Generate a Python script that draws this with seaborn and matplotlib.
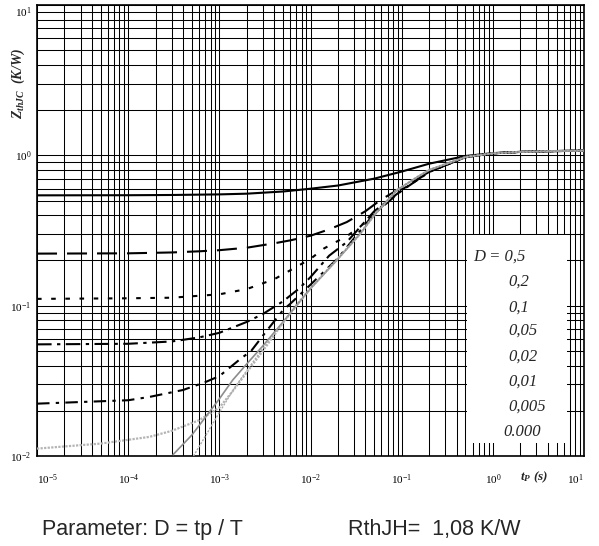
"""Transient thermal impedance Z_thJC vs pulse width, parameter D = tp / T."""

import numpy as np
import pandas as pd
import matplotlib
matplotlib.use("Agg")
import matplotlib.pyplot as plt
from matplotlib.ticker import LogLocator, NullFormatter, FixedLocator
from matplotlib.patches import Rectangle
import seaborn as sns


# --------------------------------------------------------
#       DATA
# --------------------------------------------------------

# D = 0.5
t_d05 = [1e-5, 1e-4, 3e-4, 1e-3, 2e-3, 5e-3, 1e-2, 2e-2, 5e-2, 1e-1, 2e-1, 5e-1, 1, 2, 5, 10]
z_d05 = [0.542, 0.543, 0.545, 0.550, 0.556, 0.575, 0.600, 0.630, 0.700, 0.780, 0.880, 0.990, 1.035, 1.055, 1.068, 1.075]

# D = 0.2
t_d02 = [1e-5, 1e-4, 3e-4, 6e-4, 1e-3, 2e-3, 4e-3, 6e-3, 1e-2, 1.6e-2, 2.5e-2, 4e-2, 6e-2, 1e-1, 1.5e-1, 2e-1, 5e-1, 1, 2, 5, 10]
z_d02 = [0.222, 0.223, 0.226, 0.230, 0.234, 0.243, 0.260, 0.272, 0.292, 0.322, 0.360, 0.425, 0.510, 0.610, 0.705, 0.780, 0.972, 1.032, 1.054, 1.068, 1.075]

# D = 0.1
t_d01 = [1e-5, 1e-4, 3e-4, 1e-3, 2e-3, 4e-3, 6e-3, 1e-2, 1.4e-2, 2.5e-2, 3.5e-2, 6e-2, 1e-1, 2e-1, 5e-1, 1, 2, 5, 10]
z_d01 = [0.111, 0.112, 0.113, 0.119, 0.129, 0.150, 0.172, 0.205, 0.240, 0.290, 0.335, 0.455, 0.590, 0.778, 0.972, 1.032, 1.054, 1.068, 1.075]

# D = 0.05
t_d005 = [1e-5, 1e-4, 3e-4, 6e-4, 1e-3, 2e-3, 3e-3, 5e-3, 7.5e-3, 1e-2, 1.6e-2, 2.5e-2, 5e-2, 1e-1, 2e-1, 5e-1, 1, 2, 5, 10]
z_d005 = [0.0553, 0.0558, 0.0578, 0.0615, 0.066, 0.078, 0.088, 0.107, 0.130, 0.155, 0.215, 0.265, 0.425, 0.585, 0.776, 0.972, 1.032, 1.054, 1.068, 1.075]

# D = 0.02
t_d002 = [1e-5, 1e-4, 1.7e-4, 4e-4, 7e-4, 1e-3, 1.8e-3, 2.2e-3, 3.3e-3, 5e-3, 6e-3, 1e-2, 2e-2, 5e-2, 1e-1, 2e-1, 5e-1, 1, 2, 5, 10]
z_d002 = [0.0223, 0.0235, 0.0247, 0.0275, 0.0310, 0.0340, 0.0455, 0.0494, 0.0680, 0.0935, 0.103, 0.138, 0.207, 0.410, 0.582, 0.775, 0.972, 1.032, 1.054, 1.068, 1.075]

# D = 0.01
t_d001 = [1e-5, 5e-5, 1.7e-4, 3e-4, 6e-4, 1e-3, 1.4e-3, 2e-3, 3e-3, 5e-3, 7e-3, 1e-2, 2e-2, 3.5e-2, 5e-2, 8.8e-2, 1.5e-1, 2e-1, 5e-1, 1, 2, 5, 10]
z_d001 = [0.0112, 0.0121, 0.0134, 0.0147, 0.0173, 0.0210, 0.0270, 0.0360, 0.0500, 0.0770, 0.101, 0.131, 0.206, 0.302, 0.402, 0.586, 0.721, 0.800, 0.975, 1.032, 1.054, 1.068, 1.075]

# D = 0.005
t_d0005 = [3.1e-4, 5e-4, 1e-3, 1.4e-3, 2e-3, 3e-3, 5e-3, 7e-3, 1e-2, 2e-2, 3.5e-2, 5e-2, 8.8e-2, 1.5e-1, 2e-1, 5e-1, 1, 2, 5, 10]
z_d0005 = [0.0102, 0.0138, 0.0240, 0.0320, 0.0410, 0.0540, 0.0780, 0.100, 0.130, 0.205, 0.300, 0.400, 0.585, 0.720, 0.800, 0.975, 1.032, 1.054, 1.068, 1.075]

# D = 0 (single pulse)
t_d0 = [5.2e-4, 7e-4, 1e-3, 1.5e-3, 2e-3, 3e-3, 5e-3, 7e-3, 1e-2, 2e-2, 3.5e-2, 5e-2, 8.8e-2, 1.5e-1, 2e-1, 5e-1, 1, 2, 5, 10]
z_d0 = [0.0100, 0.0135, 0.0195, 0.0290, 0.0370, 0.0520, 0.0770, 0.099, 0.129, 0.204, 0.298, 0.398, 0.583, 0.718, 0.798, 0.974, 1.031, 1.054, 1.068, 1.075]

D_LABELS = ["D = 0,5", "0,2", "0,1", "0,05", "0,02", "0,01", "0,005", "0.000"]
X_TICKS = [1e-5, 1e-4, 1e-3, 1e-2, 1e-1, 1e0, 1e1]
X_TICKLABELS = [r"$10^{-5}$", r"$10^{-4}$", r"$10^{-3}$", r"$10^{-2}$", r"$10^{-1}$", r"$10^{0}$", r"$10^{1}$"]
Y_TICKS = [1e-2, 1e-1, 1e0, 1e1]
Y_TICKLABELS = [r"$10^{-2}$", r"$10^{-1}$", r"$10^{0}$", r"$10^{1}$"]


# --------------------------------------------------------
#       PLOT
# --------------------------------------------------------

sns.set_theme(style="white")
plt.rcParams["font.family"] = ["Liberation Serif", "DejaVu Serif"]
plt.rcParams["mathtext.fontset"] = "custom"
plt.rcParams["mathtext.rm"] = "Liberation Serif"
plt.rcParams["mathtext.it"] = "Liberation Serif:italic"
plt.rcParams["mathtext.bf"] = "Liberation Serif:bold"
plt.rcParams["mathtext.bfit"] = "Liberation Serif:italic:bold"

fig = plt.figure(figsize=(5.99, 5.46), dpi=100)
ax = fig.add_axes([0.0618, 0.1648, 0.9132, 0.826])

curves = [
    (t_d05, z_d05, "black", 1.5, "-"),
    (t_d02, z_d02, "black", 1.5, (0, (9.6, 4.8))),
    (t_d01, z_d01, "black", 1.5, (0, (2.2, 4.6))),
    (t_d005, z_d005, "black", 1.5, (0, (7.0, 2.6, 1.6, 2.6))),
    (t_d002, z_d002, "black", 1.5, (0, (6.0, 3.0, 1.6, 3.0))),
    (t_d001, z_d001, "#b4b4b4", 1.6, (0, (1.0, 0.6))),
    (t_d0005, z_d0005, "#8c8c8c", 1.2, "-"),
    (t_d0, z_d0, "#ababab", 1.0, (0, (1.5, 1.0))),
]

for t, z, col, lw, ls in curves:
    df = pd.DataFrame({"t": t, "z": z})
    sns.lineplot(data=df, x="t", y="z", ax=ax, color=col, linewidth=lw,
                 linestyle=ls, zorder=3)

ax.set_xscale("log")
ax.set_yscale("log")
ax.set_xlim(1e-5, 1e1)
ax.set_ylim(1e-2, 1e1)

# grid, major + minor, all black
ax.xaxis.set_major_locator(FixedLocator(X_TICKS))
ax.yaxis.set_major_locator(FixedLocator(Y_TICKS))
ax.xaxis.set_minor_locator(LogLocator(base=10, subs=np.arange(2, 10), numticks=100))
ax.yaxis.set_minor_locator(LogLocator(base=10, subs=np.arange(2, 10), numticks=100))
ax.xaxis.set_minor_formatter(NullFormatter())
ax.yaxis.set_minor_formatter(NullFormatter())
ax.set_axisbelow(True)
ax.grid(which="both", color="black", linewidth=0.75)

ax.set_xticklabels(X_TICKLABELS)
ax.set_yticklabels(Y_TICKLABELS)
xl = ax.get_xticklabels()
xl[0].set_horizontalalignment("left")
xl[-1].set_horizontalalignment("right")
yl = ax.get_yticklabels()
yl[-1].set_verticalalignment("top")
ax.tick_params(axis="both", which="major", direction="out", length=3, width=0.8,
               labelsize=8, colors="black")
ax.tick_params(axis="x", which="major", pad=9)
ax.tick_params(axis="y", which="major", pad=1)
ax.tick_params(which="minor", length=0)

for sp in ax.spines.values():
    sp.set_color("black")
    sp.set_linewidth(1.2)

ax.set_xlabel("")
ax.set_ylabel("")

# white box with the D values
ax.add_patch(Rectangle((0.786, 0.028), 0.182, 0.461, transform=ax.transAxes,
                       facecolor="white", edgecolor="none", zorder=2))
label_y = [0.442, 0.386, 0.330, 0.277, 0.220, 0.165, 0.109, 0.054]
label_x = [0.797, 0.861, 0.861, 0.861, 0.861, 0.861, 0.861, 0.852]
for txt, lx, ly in zip(D_LABELS, label_x, label_y):
    ax.text(lx, ly, txt, transform=ax.transAxes, fontsize=12, style="italic",
            va="center", ha="left", zorder=4)

# axis titles
fig.text(0.030, 0.848, r"$\mathbfit{Z_{thJC}}$  (K/W)", rotation=90,
         fontsize=10, fontweight="bold", style="italic", ha="center", va="center")
fig.text(0.892, 0.1265, r"$\mathbfit{t_{P}}$ (s)", fontsize=9.5,
         fontweight="bold", style="italic", ha="center", va="center")

# footer
fig.text(0.070, 0.031, "Parameter: D = tp / T", fontsize=15.5,
         family=["Liberation Sans", "DejaVu Sans"], va="center", ha="left")
fig.text(0.581, 0.031, "RthJH=  1,08 K/W", fontsize=15.5,
         family=["Liberation Sans", "DejaVu Sans"], va="center", ha="left")

fig.savefig("out.png", dpi=100, facecolor="white")
